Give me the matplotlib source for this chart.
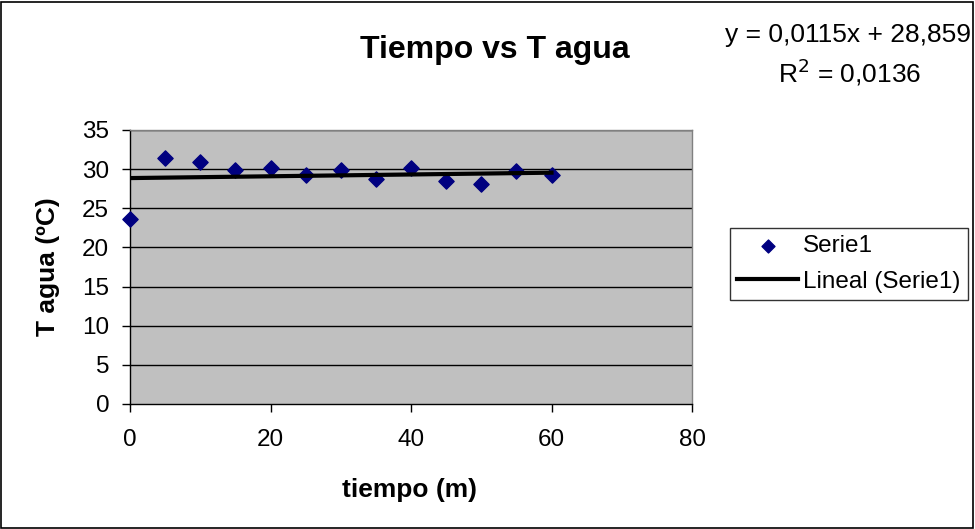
import matplotlib
matplotlib.use("Agg")
import matplotlib.pyplot as plt
from matplotlib.patches import Rectangle

plt.rcParams['font.family'] = ['Liberation Sans', 'DejaVu Sans']

# Water temperature readings over time
tiempo = [0, 5, 10, 15, 20, 25, 30, 35, 40, 45, 50, 55, 60]
t_agua = [23.6, 31.4, 30.9, 29.9, 30.1, 29.2, 29.9, 28.7, 30.2, 28.5, 28.1, 29.8, 29.3]

# Linear trend coefficients
pendiente = 0.0115
intercepto = 28.859
r2 = 0.0136

x_ticks = [0, 20, 40, 60, 80]
y_ticks = [0, 5, 10, 15, 20, 25, 30, 35]

W, H = 975, 529
fig = plt.figure(figsize=(W / 100, H / 100), dpi=100)
fig.patch.set_facecolor('white')

# Chart border
fig.add_artist(Rectangle((1 / W, 1 / H), (W - 3) / W, (H - 3) / H, transform=fig.transFigure,
                         fill=False, edgecolor='black', linewidth=1.2))

left, right, top, bottom = 130, 692, 130, 404
ax = fig.add_axes([left / W, 1 - bottom / H, (right - left) / W, (bottom - top) / H])
ax.set_facecolor('#C0C0C0')
ax.set_xlim(0, 80)
ax.set_ylim(0, 35)
ax.set_xticks(x_ticks)
ax.set_yticks(y_ticks)
ax.tick_params(axis='both', labelsize=17.5, direction='out', length=6, width=1, colors='black')
ax.tick_params(axis='x', pad=12)
ax.tick_params(axis='y', pad=9)

for y in y_ticks[1:]:
    ax.axhline(y, color='black', linewidth=1, zorder=1)

for side in ['top', 'right']:
    ax.spines[side].set_color('#808080')
    ax.spines[side].set_linewidth(1)
for side in ['left', 'bottom']:
    ax.spines[side].set_color('black')
    ax.spines[side].set_linewidth(1)

ax.scatter(tiempo, t_agua, marker='D', s=60, color='#000080', zorder=3,
           label='Serie1', clip_on=False)

xs = [min(tiempo), max(tiempo)]
ys = [pendiente * x + intercepto for x in xs]
ax.plot(xs, ys, color='black', linewidth=3, zorder=4, label='Lineal (Serie1)')

ax.set_xlabel('tiempo (m)', fontsize=19, fontweight='bold', va='center')
ax.xaxis.set_label_coords((410 - left) / (right - left), (bottom - 490) / (bottom - top))
ax.set_ylabel('T agua (ºC)', fontsize=19, fontweight='bold', va='center', ha='center')
ax.yaxis.set_label_coords((48 - left) / (right - left), (bottom - 267) / (bottom - top))

fig.text(495 / W, 1 - 50 / H, 'Tiempo vs T agua', fontsize=23, fontweight='bold',
         ha='center', va='center')

fig.text(848 / W, 1 - 35 / H, f'y = {pendiente:.4f}x + {intercepto:.3f}'.replace('.', ','),
         fontsize=19, ha='center', va='center')
fig.text(850 / W, 1 - 72 / H, f'R$^2$ = {r2:.4f}'.replace('.', ','),
         fontsize=19, ha='center', va='center')

leg = fig.legend(loc='upper left', bbox_to_anchor=(730 / W, 1 - 228 / H),
                 frameon=True, fancybox=False, fontsize=17.5, handlelength=2.5,
                 handletextpad=0.2, borderpad=0.3, labelspacing=0.55, borderaxespad=0,
                 markerscale=0.85)
leg.get_frame().set_edgecolor('black')
leg.get_frame().set_linewidth(1)

fig.savefig('out.png', dpi=100)
